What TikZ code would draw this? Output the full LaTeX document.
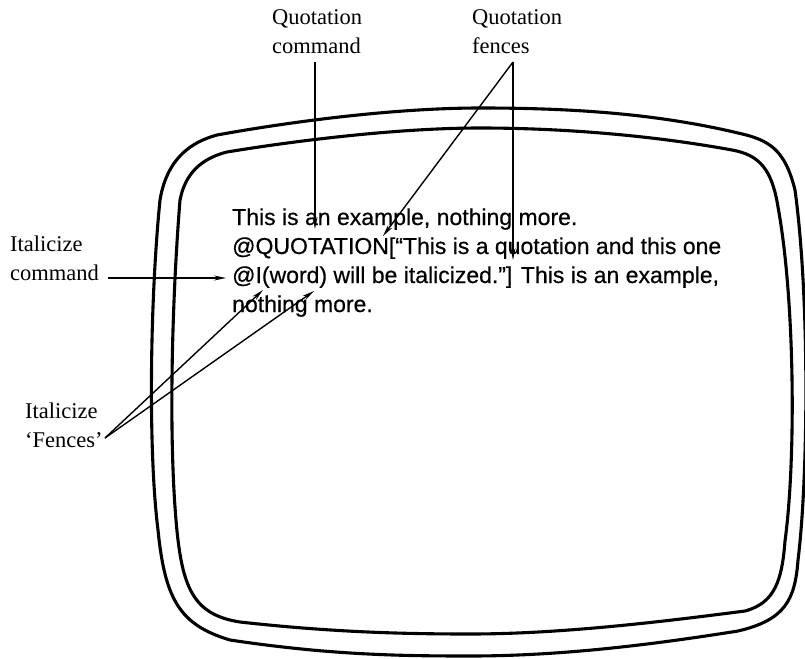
\documentclass[tikz,border=0pt]{standalone}
\usepackage{fontspec}
\setmainfont{Liberation Serif}
\newfontfamily\pantalla[FakeBold=0.5]{Liberation Sans}
\usetikzlibrary{arrows.meta}

\begin{document}
\begin{tikzpicture}[x=1pt,y=-1pt,
        marc/.style={line width=3.1pt},
        fletxa/.style={line width=1.4pt,-{Stealth[length=12pt,width=5pt]}},
        etiqueta/.style={align=left,anchor=north west,inner sep=0pt,font=\fontsize{22.5}{29}\selectfont},
        linia/.style={anchor=base west,inner sep=0pt,font=\pantalla\fontsize{23}{30}\selectfont}]
        \useasboundingbox (0,0) rectangle (805,658);
        % Marc exterior de la pantalla
        \draw[marc] (160,200) .. controls (150,300) and (148,450) .. (158,530)
                     .. controls (165,600) and (180,625) .. (230,640)
                     .. controls (330,655) and (400,656) .. (470,656)
                     .. controls (560,656) and (650,645) .. (738,631)
                     .. controls (785,620) and (795,600) .. (798,560)
                     .. controls (808,480) and (810,300) .. (795,190)
                     .. controls (785,150) and (770,140) .. (738,133)
                     .. controls (650,112) and (560,108) .. (480,108)
                     .. controls (400,108) and (300,120) .. (217,135)
                     .. controls (180,145) and (165,170) .. (160,200) -- cycle;
        % Marc interior
        \draw[marc] (180,200) .. controls (172,300) and (168,440) .. (177,531)
                     .. controls (183,590) and (195,615) .. (240,622)
                     .. controls (330,632) and (400,634) .. (470,634)
                     .. controls (560,634) and (660,622) .. (745,611)
                     .. controls (775,603) and (782,580) .. (785,541)
                     .. controls (796,460) and (795,300) .. (778,207)
                     .. controls (772,170) and (760,155) .. (732,150)
                     .. controls (650,135) and (560,128) .. (480,128)
                     .. controls (400,128) and (300,140) .. (227,152)
                     .. controls (195,160) and (184,180) .. (180,200) -- cycle;
        % Text de la pantalla
        \node[linia] (l1) at (232,225) {This is an example, nothing more.};
        \node[linia] (l2) at (232,254) {@QUOTATION[“This is a quotation and this one};
        \node[linia] (l3) at (232,283) {@I(word) will be italicized.”] This is an example,};
        \node[linia] (l4) at (232,312) {nothing more.};
        % Etiquetes
        \node[etiqueta] (qcmd) at (272,9) {Quotation\\command};
        \node[etiqueta] (qfen) at (472,9) {Quotation\\fences};
        \node[etiqueta] (icmd) at (10,236) {Italicize\\command};
        \node[etiqueta] (ifen) at (25,403) {Italicize\\‘Fences’};
        % Punts de les fletxes
        \coordinate (qcs) at (315,62);
        \coordinate (qa) at (315,229);
        \coordinate (qfa) at (513,62);
        \coordinate (qfb) at (383,236);
        \coordinate (qfc) at (513,260);
        \coordinate (ics) at (108,278);
        \coordinate (ia) at (226,278);
        \coordinate (ifa) at (105,438);
        \coordinate (ifb) at (263,290);
        \coordinate (ifc) at (314,291);
        % Fletxes
        \draw[fletxa] (qcs) -- (qa);
        \draw[fletxa] (qfa) -- (qfb);
        \draw[fletxa] (qfa) -- (qfc);
        \draw[fletxa] (ics) -- (ia);
        \draw[fletxa] (ifa) -- (ifb);
        \draw[fletxa] (ifa) -- (ifc);
    \end{tikzpicture}
\end{document}
